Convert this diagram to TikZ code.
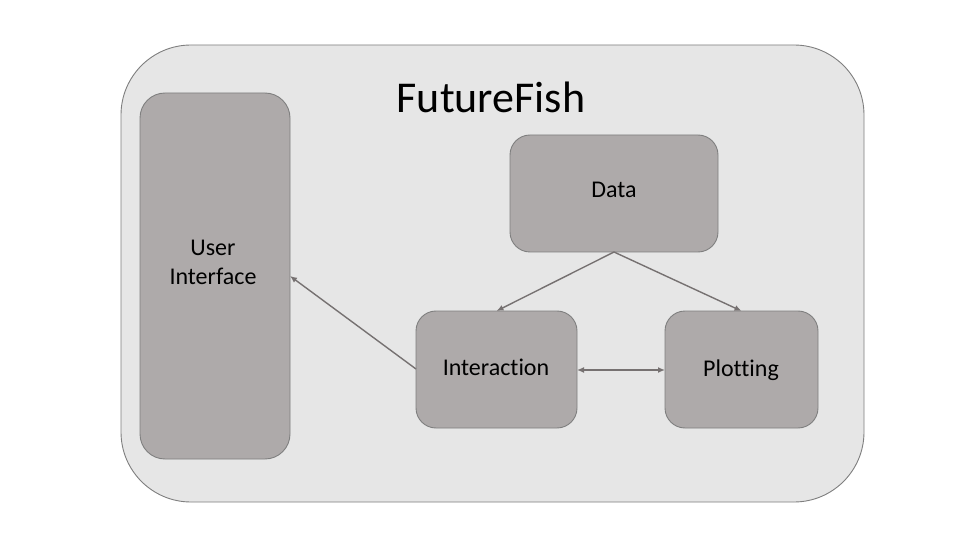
\documentclass[tikz,border=0pt]{standalone}
\usepackage{fontspec}
\setmainfont[Ligatures=NoCommon]{Carlito}
\usetikzlibrary{arrows.meta}
\definecolor{outerfill}{HTML}{E6E6E6}
\definecolor{boxfill}{HTML}{AEAAAA}
\definecolor{edge}{HTML}{7F7F7F}
\definecolor{arrowc}{HTML}{767171}
\tikzset{
  box/.style={draw=edge, fill=boxfill, line width=0.9pt, rounded corners=#1, inner sep=0pt},
  box/.default=20pt,
  conn/.style={draw=arrowc, line width=1.4pt, -{Latex[length=7pt,width=6pt]}},
  lbl/.style={font=\fontsize{24}{29}\selectfont, text=black, align=center}
}
\begin{document}
\begin{tikzpicture}[x=1pt,y=-1pt]
\useasboundingbox (0,0) rectangle (975,548);
\fill[white] (0,0) rectangle (975,548);
\draw[draw=edge, fill=outerfill, line width=0.9pt, rounded corners=70pt] (121,45) rectangle (864,502);
\node[font=\fontsize{44}{52}\selectfont] (title) at (491,97) {FutureFish};
\draw[box=25pt] (140,93) rectangle (290,459);
\coordinate (ui) at (215,276);
\coordinate (uie) at (290,276);
\node[lbl] (uit) at (213,262) {User\\Interface};
\draw[box] (510,135) rectangle (718,252);
\coordinate (datas) at (614,252);
\node[lbl] (data) at (614,190) {Data};
\draw[box] (416,311) rectangle (577,428);
\node[lbl] (inter) at (496,367) {Interaction};
\coordinate (intn) at (496.5,311);
\coordinate (intw) at (416,369);
\coordinate (inte) at (577,370);
\draw[box] (665,311) rectangle (818,428);
\node[lbl] (plot) at (741,370) {Plotting};
\coordinate (plotn) at (741.5,311);
\coordinate (plotw) at (665,370);
\draw[conn] (intw) -- (uie);
\draw[conn] (datas) -- (intn);
\draw[conn] (datas) -- (plotn);
\draw[conn,{Latex[length=7pt,width=6pt]}-{Latex[length=7pt,width=6pt]}] (inte) -- (plotw);
\end{tikzpicture}
\end{document}
